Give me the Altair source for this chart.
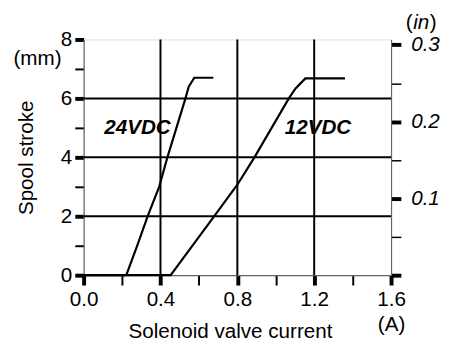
import altair as alt
import pandas as pd

# ---- data ----
cur_24 = [0.0, 0.222, 0.279, 0.333, 0.393, 0.436, 0.53, 0.547, 0.576, 0.675]
mm_24 = [0.0, 0.0, 1.0, 2.0, 3.0, 4.0, 6.0, 6.4, 6.7, 6.7]
cur_12 = [0.0, 0.453, 0.555, 0.679, 0.80, 0.889, 1.068, 1.103, 1.154, 1.36]
mm_12 = [0.0, 0.0, 0.9, 2.0, 3.07, 4.0, 6.0, 6.34, 6.68, 6.68]

label_text = ["24VDC", "12VDC"]
label_cur = [0.28, 1.22]
label_mm = [5.0, 5.0]

grid_cur = [0.4, 0.8, 1.2]
grid_mm = [2, 4, 6]

x_ticks = [0.0, 0.2, 0.4, 0.6, 0.8, 1.0, 1.2, 1.4, 1.6]
y_ticks = [0, 1, 2, 3, 4, 5, 6, 7, 8]
in_ticks = [0.0, 0.05, 0.1, 0.15, 0.2, 0.25, 0.3]

FONT = "Liberation Sans"
FS = 21

rows = []
for s, xs, ys in (("24VDC", cur_24, mm_24), ("12VDC", cur_12, mm_12)):
    for i, (a, b) in enumerate(zip(xs, ys)):
        rows.append({"series": s, "idx": i, "A": a, "mm": b})
df_lines = pd.DataFrame(rows)
df_labels = pd.DataFrame({"label": label_text, "A": label_cur, "mm": label_mm})
df_gx = pd.DataFrame({"A": grid_cur})
df_gy = pd.DataFrame({"mm": grid_mm})
df_in = pd.DataFrame({"inch": in_ticks})
df_one = pd.DataFrame({"k": [0]})

x_axis = alt.Axis(
    values=x_ticks, format=".1f", grid=False,
    labelExpr="round(datum.value*10) % 4 == 0 ? (round(datum.value*10) == 16 ? [datum.label, '(A)'] : datum.label) : ''",
    labelLineHeight=25, labelOverlap=False, labelFlush=False,
    tickSize=10, tickColor="black",
    tickWidth={"condition": {"test": "round(datum.value*10) % 4 == 0", "value": 4}, "value": 2},
    labelPadding=4, labelFont=FONT, labelFontSize=FS, labelColor="black",
    domainColor="#666", domainWidth=1.2,
    title="Solenoid valve current", titleFont=FONT, titleFontSize=FS,
    titleFontWeight="normal", titleColor="black",
    titleX=149, titleY=63, titleBaseline="alphabetic", titleAlign="center",
)
y_axis = alt.Axis(
    values=y_ticks, grid=False,
    labelExpr="datum.value % 2 == 0 ? datum.label : ''",
    tickSize=9, tickColor="black",
    tickWidth={"condition": {"test": "datum.value % 2 == 0", "value": 4}, "value": 2},
    labelPadding=3, labelFont=FONT, labelFontSize=FS, labelColor="black",
    domainColor="#666", domainWidth=1.2,
    title="Spool stroke", titleFont=FONT, titleFontSize=FS,
    titleFontWeight="normal", titleColor="black",
    titleX=-52, titleY=120, titleAngle=270, titleBaseline="alphabetic", titleAlign="center",
)
in_axis = alt.Axis(
    orient="right", values=in_ticks, format=".1f", grid=False,
    labelExpr="round(datum.value*100) % 10 == 0 && datum.value > 0 ? datum.label : ''",
    tickSize=10, tickColor="black",
    tickWidth={"condition": {"test": "round(datum.value*100) % 10 == 0", "value": 4}, "value": 1.5},
    labelPadding=10, labelFont=FONT, labelFontSize=FS, labelFontStyle="italic", labelColor="black",
    domainColor="#666", domainWidth=1.2, title="",
)

X = alt.X("A:Q", scale=alt.Scale(domain=[0, 1.6], nice=False), axis=x_axis)
Y = alt.Y("mm:Q", scale=alt.Scale(domain=[0, 8], nice=False), axis=y_axis)

grid_v = alt.Chart(df_gx).mark_rule(color="black", strokeWidth=2).encode(x=X)
grid_h = alt.Chart(df_gy).mark_rule(color="black", strokeWidth=2).encode(y=Y)
lines = alt.Chart(df_lines).mark_line(color="black", strokeWidth=2.2).encode(
    x=X, y=Y, detail="series:N", order="idx:Q")
labels = alt.Chart(df_labels).mark_text(
    font=FONT, fontSize=21, fontStyle="italic", fontWeight="bold", color="black"
).encode(x=X, y=Y, text="label:N")
mm_unit = alt.Chart(df_one).mark_text(font=FONT, fontSize=FS, color="black").encode(
    x=alt.value(-47), y=alt.value(20), text=alt.value("(mm)"))
in_open = alt.Chart(df_one).mark_text(font=FONT, fontSize=FS, color="black", align="left").encode(
    x=alt.value(328), y=alt.value(-17), text=alt.value("("))
in_mid = alt.Chart(df_one).mark_text(font=FONT, fontSize=FS, fontStyle="italic", color="black", align="left").encode(
    x=alt.value(335.5), y=alt.value(-17), text=alt.value("in"))
in_close = alt.Chart(df_one).mark_text(font=FONT, fontSize=FS, color="black", align="left").encode(
    x=alt.value(352.5), y=alt.value(-17), text=alt.value(")"))

left = alt.layer(grid_v, grid_h, lines, labels, mm_unit, in_open, in_mid, in_close)
right = alt.Chart(df_in).mark_point(opacity=0).encode(
    y=alt.Y("inch:Q", scale=alt.Scale(domain=[0, 0.307], nice=False, zero=True), axis=in_axis))

chart = alt.layer(left, right).resolve_scale(y="independent").properties(
    width=313, height=240,
    autosize=alt.AutoSizeParams(type="none"),
    padding={"left": 77, "top": 29, "right": 59, "bottom": 67},
).configure_view(stroke="#555", strokeWidth=1.2).configure(background="white")

chart.save("out.html", embed_options={"renderer": "svg", "actions": False})
